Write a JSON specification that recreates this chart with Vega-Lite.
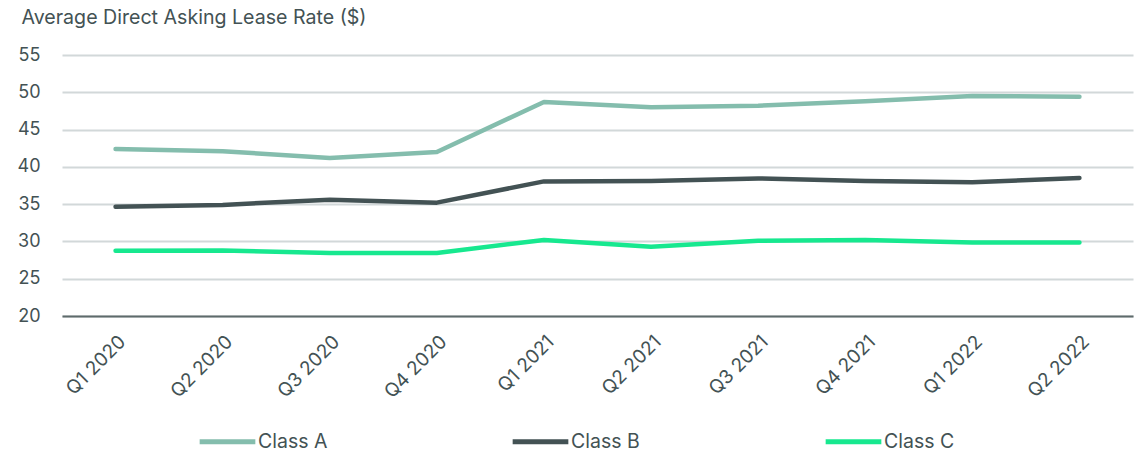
{
  "$schema": "https://vega.github.io/schema/vega-lite/v6.json",
  "width": 1071,
  "height": 261,
  "autosize": {"type": "none"},
  "padding": {"left": 62, "top": 55, "right": 10, "bottom": 137},
  "background": "white",
  "config": {
    "view": {"stroke": null},
    "font": "Inter",
    "axis": {"labelColor": "#435254", "titleColor": "#435254", "labelFont": "Inter", "titleFont": "Inter"},
    "legend": {"labelColor": "#435254", "labelFont": "Inter"}
  },
  "data": {
    "values": [
      {"quarter": "Q1 2020", "cls": "Class A", "rate": 42.4},
      {"quarter": "Q2 2020", "cls": "Class A", "rate": 42.1},
      {"quarter": "Q3 2020", "cls": "Class A", "rate": 41.2},
      {"quarter": "Q4 2020", "cls": "Class A", "rate": 42.0},
      {"quarter": "Q1 2021", "cls": "Class A", "rate": 48.7},
      {"quarter": "Q2 2021", "cls": "Class A", "rate": 48.0},
      {"quarter": "Q3 2021", "cls": "Class A", "rate": 48.2},
      {"quarter": "Q4 2021", "cls": "Class A", "rate": 48.8},
      {"quarter": "Q1 2022", "cls": "Class A", "rate": 49.5},
      {"quarter": "Q2 2022", "cls": "Class A", "rate": 49.4},
      {"quarter": "Q1 2020", "cls": "Class B", "rate": 34.65},
      {"quarter": "Q2 2020", "cls": "Class B", "rate": 34.9},
      {"quarter": "Q3 2020", "cls": "Class B", "rate": 35.6},
      {"quarter": "Q4 2020", "cls": "Class B", "rate": 35.2},
      {"quarter": "Q1 2021", "cls": "Class B", "rate": 38.05},
      {"quarter": "Q2 2021", "cls": "Class B", "rate": 38.1},
      {"quarter": "Q3 2021", "cls": "Class B", "rate": 38.45},
      {"quarter": "Q4 2021", "cls": "Class B", "rate": 38.1},
      {"quarter": "Q1 2022", "cls": "Class B", "rate": 37.95},
      {"quarter": "Q2 2022", "cls": "Class B", "rate": 38.5},
      {"quarter": "Q1 2020", "cls": "Class C", "rate": 28.75},
      {"quarter": "Q2 2020", "cls": "Class C", "rate": 28.8},
      {"quarter": "Q3 2020", "cls": "Class C", "rate": 28.45},
      {"quarter": "Q4 2020", "cls": "Class C", "rate": 28.45},
      {"quarter": "Q1 2021", "cls": "Class C", "rate": 30.2},
      {"quarter": "Q2 2021", "cls": "Class C", "rate": 29.3},
      {"quarter": "Q3 2021", "cls": "Class C", "rate": 30.1},
      {"quarter": "Q4 2021", "cls": "Class C", "rate": 30.2},
      {"quarter": "Q1 2022", "cls": "Class C", "rate": 29.85},
      {"quarter": "Q2 2022", "cls": "Class C", "rate": 29.85}
    ]
  },
  "mark": {"type": "line", "strokeWidth": 4.5, "strokeCap": "round", "strokeJoin": "round"},
  "encoding": {
    "x": {
      "field": "quarter",
      "type": "ordinal",
      "sort": null,
      "scale": {"type": "point", "padding": 0.5},
      "axis": {
        "title": null,
        "labelAngle": -45,
        "labelFontSize": 19,
        "labelPadding": 16,
        "labelDx": -4,
        "ticks": false,
        "grid": false,
        "domain": true,
        "domainColor": "#5e6b6b",
        "domainWidth": 2
      }
    },
    "y": {
      "field": "rate",
      "type": "quantitative",
      "scale": {"domain": [20, 55], "nice": false, "zero": false},
      "axis": {
        "values": [20, 25, 30, 35, 40, 45, 50, 55],
        "title": "Average Direct Asking Lease Rate ($)",
        "titleAngle": 0,
        "titleAlign": "left",
        "titleBaseline": "middle",
        "titleX": -41,
        "titleY": -38,
        "titleFontSize": 19.6,
        "titleFontWeight": "normal",
        "labelFontSize": 18,
        "labelPadding": 22,
        "ticks": false,
        "domain": false,
        "gridColor": "#d2d8d9",
        "gridWidth": 2
      }
    },
    "color": {
      "field": "cls",
      "type": "nominal",
      "scale": {"domain": ["Class A", "Class B", "Class C"], "range": ["#84BDAD", "#435254", "#17E88F"]},
      "legend": {
        "title": null,
        "orient": "none",
        "direction": "horizontal",
        "legendX": 135,
        "legendY": 356,
        "symbolType": "stroke",
        "symbolSize": 3100,
        "symbolStrokeWidth": 5,
        "labelFontSize": 19.5,
        "labelOffset": 0,
        "columnPadding": 173,
        "gridAlign": "all",
        "padding": 0
      }
    }
  }
}
